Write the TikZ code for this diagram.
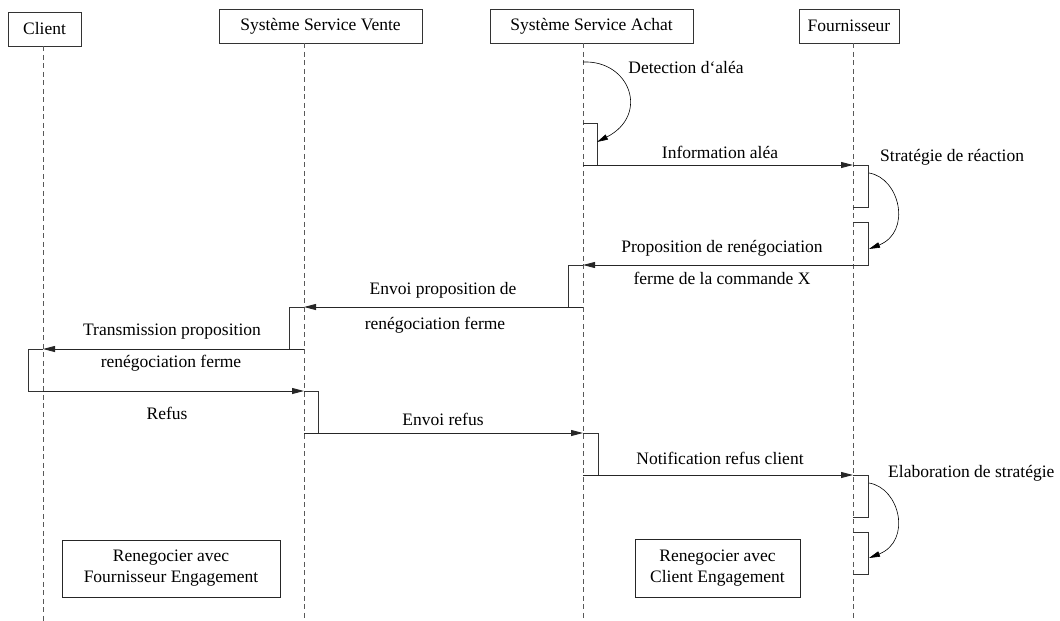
\documentclass[tikz,border=0pt]{standalone}
\usepackage{fontspec}
\setmainfont{Liberation Serif}
\usetikzlibrary{arrows.meta}
\begin{document}
\begin{tikzpicture}[x=1pt,y=-1pt,
  every node/.style={font=\fontsize{17.5}{21}\selectfont},
  hdr/.style={draw=black!80,line width=0.9pt,inner sep=0pt,minimum height=34pt},
  life/.style={draw=black!65,line width=0.8pt,dash pattern=on 5pt off 3.5pt},
  actbox/.style={draw=black!80,line width=0.9pt},
  msg/.style={draw=black!85,line width=0.9pt,-{Triangle[length=12pt,width=6pt]}},
  selfmsg/.style={draw=black,line width=0.6pt,-{Triangle[length=11pt,width=5.5pt]}},
  lbl/.style={inner sep=0pt},
  note/.style={draw=black!85,line width=0.9pt,inner sep=0pt,align=center,font=\fontsize{17.5}{21}\selectfont}
]
\useasboundingbox (0,0) rectangle (1060,621);

% headers
\node[hdr,minimum width=73pt,minimum height=34pt] (client) at (44.5,29) {Client};
\node[hdr,minimum width=203pt] (ssv) at (320.5,26) {Système Service Vente};
\node[hdr,minimum width=203pt] (ssa) at (591.5,26) {Système Service Achat};
\node[hdr,minimum width=100pt] (four) at (849,26) {Fournisseur};

% lifeline ends
\coordinate (l1) at (43,621);
\coordinate (l2) at (304,621);
\coordinate (l3) at (583,621);
\coordinate (l4) at (853,621);
\draw[life] (client.south -| l1) -- (l1);
\draw[life] (ssv.south -| l2) -- (l2);
\draw[life] (ssa.south -| l3) -- (l3);
\draw[life] (four.south -| l4) -- (l4);

% activation boxes
\draw[actbox] (583,123) -| (597,165) -- (583,165);
\draw[actbox] (853,165) -| (868,207) -- (853,207);
\draw[actbox] (853,222) -| (868,265) -- (853,265);
\draw[actbox] (583,265) -| (568,307) -- (583,307);
\draw[actbox] (304,307) -| (289,349) -- (304,349);
\draw[actbox] (43,349) -| (28,391) -- (43,391);
\draw[actbox] (304,391) -| (318,433) -- (304,433);
\draw[actbox] (583,433) -| (598,475) -- (583,475);
\draw[actbox] (853,475) -| (868,517) -- (853,517);
\draw[actbox] (853,532) -| (868,574) -- (853,574);

% message end points
\coordinate (m1a) at (583,165); \coordinate (m1b) at (853,165);
\coordinate (m2a) at (853,265); \coordinate (m2b) at (583,265);
\coordinate (m3a) at (583,307); \coordinate (m3b) at (304,307);
\coordinate (m4a) at (304,349); \coordinate (m4b) at (43,349);
\coordinate (m5a) at (43,391);  \coordinate (m5b) at (304,391);
\coordinate (m6a) at (304,433); \coordinate (m6b) at (583,433);
\coordinate (m7a) at (583,475); \coordinate (m7b) at (853,475);

\draw[msg] (m1a) -- (m1b);
\draw[msg] (m2a) -- (m2b);
\draw[msg] (m3a) -- (m3b);
\draw[msg] (m4a) -- (m4b);
\draw[msg] (m5a) -- (m5b);
\draw[msg] (m6a) -- (m6b);
\draw[msg] (m7a) -- (m7b);

% self messages
\coordinate (s1a) at (583,62);  \coordinate (s1b) at (597,142);
\coordinate (s2a) at (869,173); \coordinate (s2b) at (869,249);
\coordinate (s3a) at (869,483); \coordinate (s3b) at (869,558);
\draw[selfmsg] (s1a) .. controls (630,60) and (650,115) .. (s1b);
\draw[selfmsg] (s2a) .. controls (900,178) and (912,232) .. (s2b);
\draw[selfmsg] (s3a) .. controls (900,488) and (912,541) .. (s3b);

% labels
\node[lbl] (t1) at (686,68) {Detection d‘aléa};
\node[lbl] (t2) at (720,152) {Information aléa};
\node[lbl,anchor=west] (t3) at (880,157) {Stratégie de réaction};
\node[lbl] (t4) at (722,248) {Proposition de renégociation};
\node[lbl] (t5) at (722,278) {ferme de la commande X};
\node[lbl] (t6) at (443,290) {Envoi proposition de};
\node[lbl] (t7) at (435,325) {renégociation ferme};
\node[lbl] (t8) at (172,332) {Transmission proposition};
\node[lbl] (t9) at (171,363) {renégociation ferme};
\node[lbl] (t10) at (167,413) {Refus};
\node[lbl] (t11) at (443,419) {Envoi refus};
\node[lbl] (t12) at (720,458) {Notification refus client};
\node[lbl,anchor=west] (t13) at (888,473) {Elaboration de stratégie};

% notes
\node[note,minimum width=218pt,minimum height=57pt] (n1) at (171,568.5) {Renegocier avec\\Fournisseur Engagement};
\node[note,minimum width=165pt,minimum height=58pt] (n2) at (717.5,568) {Renegocier avec\\Client Engagement};
\end{tikzpicture}
\end{document}
